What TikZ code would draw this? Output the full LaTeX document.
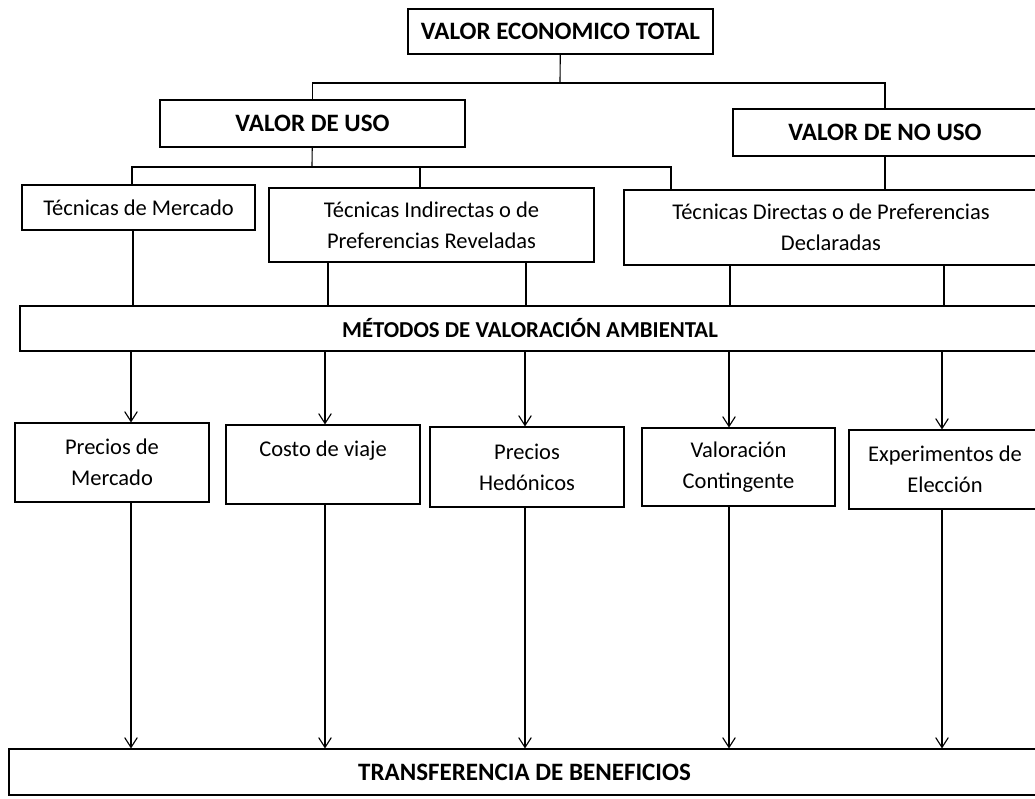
\documentclass[tikz,border=0pt]{standalone}
\usepackage{fontspec}
\setmainfont{Carlito}
\usetikzlibrary{arrows.meta}
\tikzset{
  box/.style={draw, line width=.8pt, inner sep=0pt, align=center, font=\fontsize{16}{22}\selectfont},
  head/.style={box, font=\fontsize{17.8}{22}\selectfont\bfseries},
  sz/.style 2 args={minimum width=#1*.025cm, minimum height=#2*.025cm},
  link/.style={line width=.8pt},
  arr/.style={link, -{Straight Barb[length=7pt,width=9pt]}}
}
\begin{document}
\begin{tikzpicture}[x=.025cm, y=-.025cm]
\clip (0,0) rectangle (1035,798);
\node[head, sz={305}{45}] (vet) at (560.5,31.5) {VALOR ECONOMICO TOTAL};
\node[head, sz={305}{47}] (uso) at (312.5,123.5) {VALOR DE USO};
\node[head, sz={304}{47}] (nouso) at (885,132.5) {VALOR DE NO USO};
\node[box, sz={233}{45}] (mer) at (138.5,207.5) {Técnicas de Mercado};
\node[box, sz={325}{74}] (ind) at (431.5,225) {Técnicas Indirectas o de\\Preferencias Reveladas};
\node[box, sz={414}{75}] (dir) at (831,227.5) {Técnicas Directas o de Preferencias\\Declaradas};
\node[head, font=\fontsize{16.2}{22}\selectfont\bfseries, sz={1020}{45}] (band) at (530,328.5) {MÉTODOS DE VALORACIÓN AMBIENTAL};
\node[box, sz={194}{79}] (pm) at (112,462.5) {Precios de\\Mercado};
\node[box, sz={194}{79}] (cv) at (323,464.5) {Costo de viaje\\\mbox{}};
\node[box, sz={194}{80}] (ph) at (527,467) {Precios\\Hedónicos};
\node[box, sz={193}{78}] (vc) at (738.5,467) {Valoración\\Contingente};
\node[box, sz={192}{79}] (ee) at (945,469.5) {Experimentos de\\Elección};
\node[head, sz={1031}{46}] (tb) at (524.5,772) {TRANSFERENCIA DE BENEFICIOS};

\coordinate (j1) at (560,83);
\coordinate (j2) at (312,167);
\draw[link] (vet) -- (j1);
\draw[link] (uso) |- (j1) -| (nouso);
\draw[link] (uso) -- (j2);
\draw[link] (132,0 |- mer.north) |- (j2) -| (671,0 |- dir.north);
\draw[link] (420,0 |- j2) -- (420,0 |- ind.north);
\draw[link] (nouso) -- (885,0 |- dir.north);
\foreach \x/\n in {133/mer, 328/ind, 526/ind, 730/dir, 944/dir}
  \draw[link] (\x,0 |- \n.south) -- (\x,0 |- band.north);
\foreach \x/\n in {131/pm, 325/cv, 525/ph, 729/vc, 942/ee}{
  \draw[arr] (\x,0 |- band.south) -- (\x,0 |- \n.north);
  \draw[arr] (\x,0 |- \n.south) -- (\x,0 |- tb.north);
}
\end{tikzpicture}
\end{document}
